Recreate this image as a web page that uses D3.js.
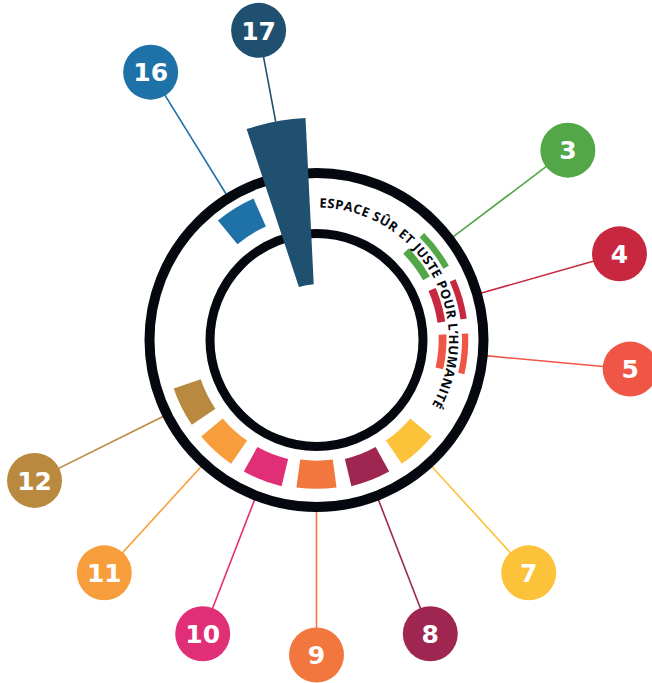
<!DOCTYPE html>
<html>
<head>
<meta charset="utf-8">
<script src="https://cdn.jsdelivr.net/npm/d3@7"></script>
<style>
	body { margin: 0; background: #fff; }
	svg { display: block; }
</style>
</head>
<body>
<svg id="chart"></svg>
<script>
var svg = d3.select("#chart").attr("width", 652).attr("height", 683);

var cx = 316.5, cy = 340;

// goals and their radial extent (0 = inner boundary, 1 = outer boundary)
var goals = [1, 2, 3, 4, 5, 6, 7, 8, 9, 10, 11, 12, 13, 14, 15, 16, 17];
var lows  = [null, null, 0.22, 0.22, 0.22, null, 0.22, 0.22, 0.19, 0.22, 0.22, 0.22, null, null, null, 0.26, -1.08];
var highs = [null, null, 0.80, 0.80, 0.80, null, 0.77, 0.77, 0.74, 0.77, 0.77, 0.78, null, null, null, 0.86, 2.18];
var colors = ["#e5243b", "#dda63a", "#53a748", "#c8283f", "#f05645", "#26bde2", "#fbc23a", "#9e2650",
	"#f2773f", "#e02e77", "#f89d3c", "#b8893f", "#3f7e44", "#0a97d9", "#56c02b", "#1f72a8", "#20506f"];
var title = "ESPACE SÛR ET JUSTE POUR L\u2019HUMANITÉ";

var data = goals.map(function(g, i){
	return {goal: g, lo: lows[i], hi: highs[i], color: colors[i]};
}).filter(function(d){ return d.lo != null; });

var angle = d3.scaleBand()
	.domain(goals)
	.range([0, 2 * Math.PI])
	.paddingInner(0.268)
	.paddingOuter(0.134);

var rScale = d3.scaleLinear()
	.domain([0, 1])
	.range([111, 162]);

var labelR = 315;
var ringOuter = 167, ringInner = 106.5;

function mid(d){ return angle(d.goal) + angle.bandwidth() / 2; }
function px(a, r){ return cx + r * Math.sin(a); }
function py(a, r){ return cy - r * Math.cos(a); }

var g = svg.append("g");

// leader lines
g.selectAll(".leader")
	.data(data)
	.enter()
	.append("line")
		.attr("class", "leader")
		.attr("x1", function(d){ return px(mid(d), Math.max(ringOuter, rScale(d.hi))); })
		.attr("y1", function(d){ return py(mid(d), Math.max(ringOuter, rScale(d.hi))); })
		.attr("x2", function(d){ return px(mid(d), labelR); })
		.attr("y2", function(d){ return py(mid(d), labelR); })
		.attr("stroke", function(d){ return d.color; })
		.attr("stroke-width", 1.6);

// boundary rings
g.append("circle")
	.attr("cx", cx).attr("cy", cy).attr("r", ringOuter)
	.attr("fill", "none").attr("stroke", "#05080f").attr("stroke-width", 10);

g.append("circle")
	.attr("cx", cx).attr("cy", cy).attr("r", ringInner)
	.attr("fill", "none").attr("stroke", "#05080f").attr("stroke-width", 9);

// bars
var arc = d3.arc()
	.innerRadius(function(d){ return rScale(d.lo); })
	.outerRadius(function(d){ return rScale(d.hi); })
	.startAngle(function(d){ return angle(d.goal); })
	.endAngle(function(d){ return angle(d.goal) + angle.bandwidth(); });

g.append("g")
	.attr("transform", "translate(" + cx + "," + cy + ")")
	.selectAll("path")
	.data(data)
	.enter()
	.append("path")
		.attr("d", arc)
		.attr("fill", function(d){ return d.color; });

// white band behind the curved title
var a0 = 0.3 * Math.PI / 180, a1 = 121 * Math.PI / 180;
g.append("path")
	.attr("transform", "translate(" + cx + "," + cy + ")")
	.attr("d", d3.arc()({innerRadius: 130, outerRadius: 145.5, startAngle: a0, endAngle: a1}))
	.attr("fill", "#fff");

var textR = 132.5;
var t0 = 1.2 * Math.PI / 180, t1 = 119.5 * Math.PI / 180;
svg.append("defs").append("path")
	.attr("id", "titlePath")
	.attr("d", "M" + px(t0, textR) + "," + py(t0, textR) +
		" A" + textR + "," + textR + " 0 0 1 " + px(t1 + 0.3, textR) + "," + py(t1 + 0.3, textR));

g.append("text")
	.attr("font-family", "'Open Sans', 'DejaVu Sans', sans-serif")
	.attr("font-weight", "bold")
	.attr("font-size", 13)
	.attr("fill", "#05080f")
	.append("textPath")
		.attr("href", "#titlePath")
		.attr("textLength", textR * (t1 - t0))
		.attr("lengthAdjust", "spacing")
		.text(title);

// numbered labels
var labels = g.selectAll(".label")
	.data(data)
	.enter()
	.append("g")
		.attr("class", "label")
		.attr("transform", function(d){
			return "translate(" + px(mid(d), labelR) + "," + py(mid(d), labelR) + ")";
		});

labels.append("circle")
	.attr("r", 27.5)
	.attr("fill", function(d){ return d.color; });

labels.append("text")
	.attr("text-anchor", "middle")
	.attr("dy", "0.37em")
	.attr("font-family", "'DejaVu Sans', sans-serif")
	.attr("font-weight", "bold")
	.attr("font-size", 25)
	.attr("fill", "#fff")
	.text(function(d){ return d.goal; });
</script>
</body>
</html>
